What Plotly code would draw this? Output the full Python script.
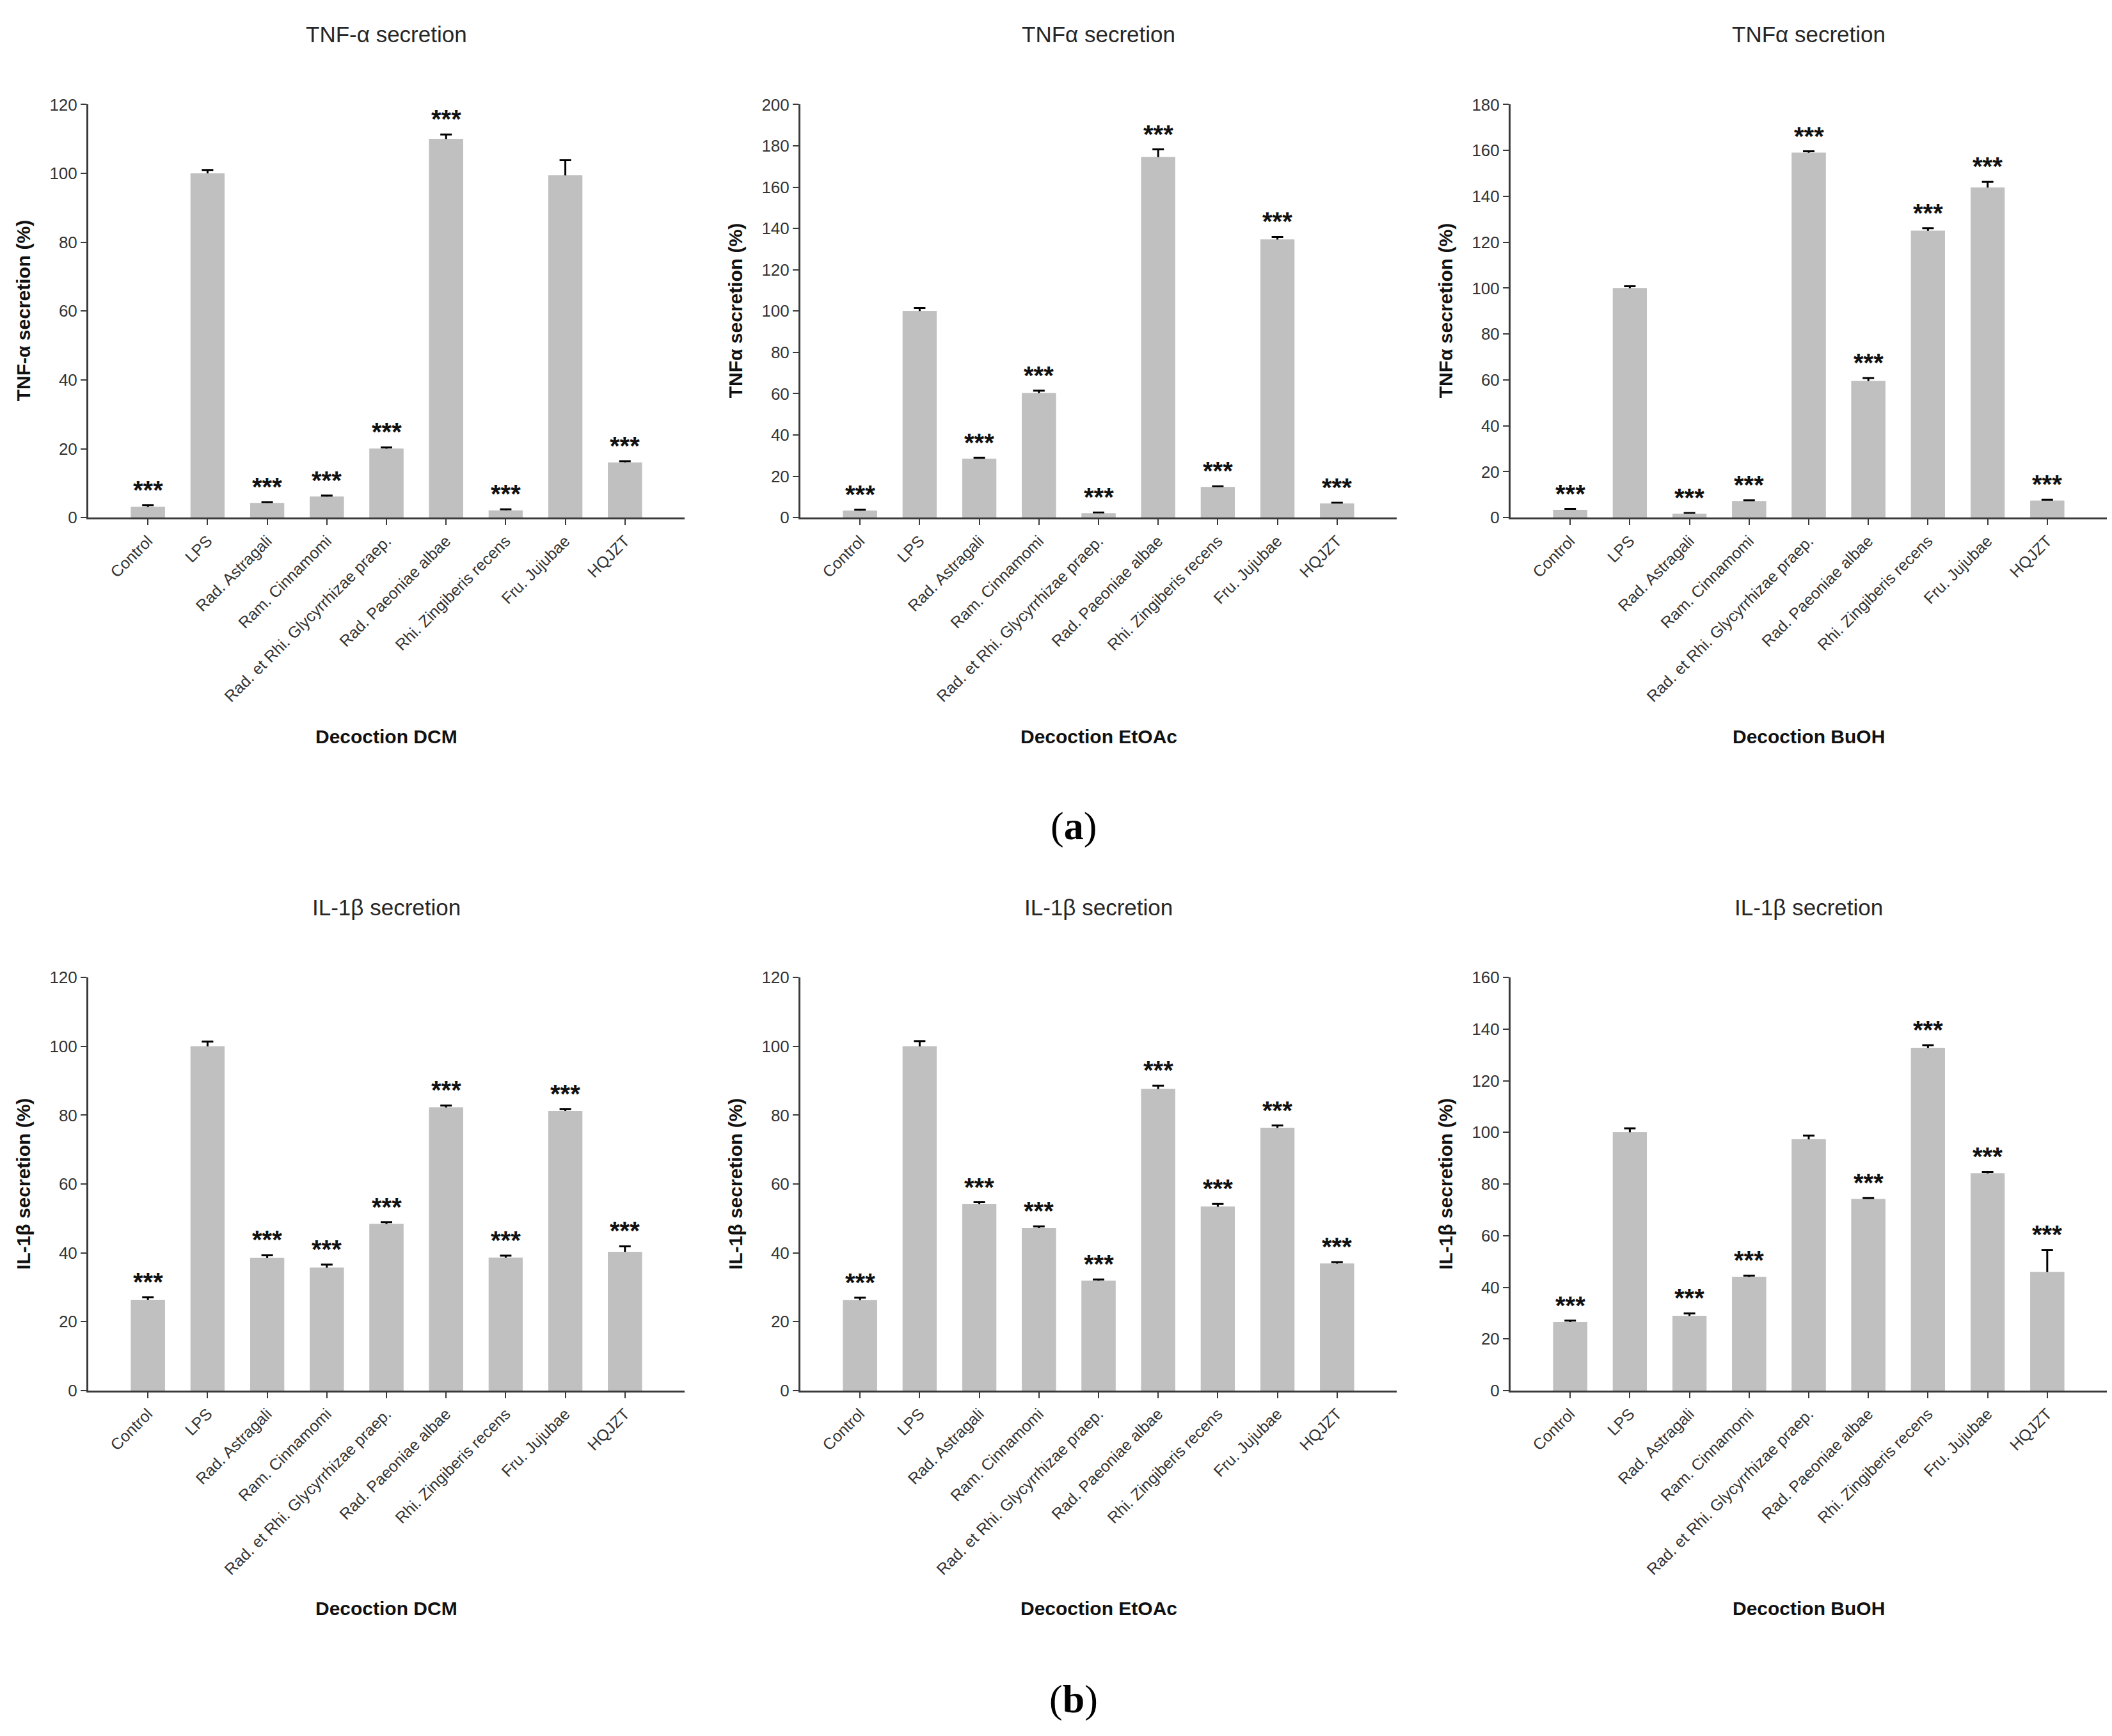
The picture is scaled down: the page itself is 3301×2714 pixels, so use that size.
import plotly.graph_objects as go

# ---------------- data ----------------
categories = ["Control", "LPS", "Rad. Astragali", "Ram. Cinnamomi",
              "Rad. et Rhi. Glycyrrhizae praep.", "Rad. Paeoniae albae",
              "Rhi. Zingiberis recens", "Fru. Jujubae", "HQJZT"]

tnf_dcm = [3.1, 100.0, 4.2, 6.1, 20.0, 110.0, 2.1, 99.4, 16.0]
tnf_dcm_err = [0.5, 1.0, 0.3, 0.3, 0.4, 1.3, 0.3, 4.4, 0.4]
tnf_dcm_sig = ["***", "", "***", "***", "***", "***", "***", "", "***"]

tnf_etoac = [3.3, 100.0, 28.5, 60.3, 2.1, 174.6, 14.8, 134.6, 6.8]
tnf_etoac_err = [0.5, 1.5, 0.5, 1.2, 0.4, 3.7, 0.4, 1.3, 0.4]
tnf_etoac_sig = ["***", "", "***", "***", "***", "***", "***", "***", "***"]

tnf_buoh = [3.4, 100.0, 1.7, 7.2, 159.0, 59.5, 125.0, 143.8, 7.4]
tnf_buoh_err = [0.4, 0.8, 0.3, 0.4, 0.6, 1.3, 1.1, 2.5, 0.4]
tnf_buoh_sig = ["***", "", "***", "***", "***", "***", "***", "***", "***"]

il1b_dcm = [26.4, 100.0, 38.5, 35.7, 48.4, 82.2, 38.6, 81.2, 40.3]
il1b_dcm_err = [0.7, 1.4, 0.8, 0.9, 0.5, 0.6, 0.6, 0.6, 1.6]
il1b_dcm_sig = ["***", "", "***", "***", "***", "***", "***", "***", "***"]

il1b_etoac = [26.3, 100.0, 54.2, 47.2, 31.9, 87.6, 53.4, 76.3, 36.9]
il1b_etoac_err = [0.7, 1.5, 0.5, 0.5, 0.4, 1.0, 0.8, 0.7, 0.4]
il1b_etoac_sig = ["***", "", "***", "***", "***", "***", "***", "***", "***"]

il1b_buoh = [26.5, 100.0, 28.9, 44.0, 97.3, 74.2, 132.7, 84.1, 45.9]
il1b_buoh_err = [0.6, 1.6, 1.0, 0.5, 1.5, 0.4, 1.1, 0.5, 8.5]
il1b_buoh_sig = ["***", "", "***", "***", "", "***", "***", "***", "***"]

panel_titles = ["TNF-\u03b1 secretion", "TNF\u03b1 secretion", "TNF\u03b1 secretion",
                "IL-1\u03b2 secretion", "IL-1\u03b2 secretion", "IL-1\u03b2 secretion"]
y_titles = ["TNF-\u03b1 secretion (%)", "TNF\u03b1 secretion (%)", "TNF\u03b1 secretion (%)",
            "IL-1\u03b2 secretion (%)", "IL-1\u03b2 secretion (%)", "IL-1\u03b2 secretion (%)"]
x_titles = ["Decoction DCM", "Decoction EtOAc", "Decoction BuOH",
            "Decoction DCM", "Decoction EtOAc", "Decoction BuOH"]
y_max = [120, 200, 180, 120, 120, 160]
panel_labels = ["a", "b"]

values = [tnf_dcm, tnf_etoac, tnf_buoh, il1b_dcm, il1b_etoac, il1b_buoh]
errors = [tnf_dcm_err, tnf_etoac_err, tnf_buoh_err, il1b_dcm_err, il1b_etoac_err, il1b_buoh_err]
sigs = [tnf_dcm_sig, tnf_etoac_sig, tnf_buoh_sig, il1b_dcm_sig, il1b_etoac_sig, il1b_buoh_sig]

# ---------------- layout geometry (pixels) ----------------
W, H = 3301, 2714
col_x = [(130, 1062), (1243, 2175), (2353, 3285)]
row_y = [(142, 795), (1522, 2175)]
title_y = [31, 1411]
xtitle_y = [1141, 2519]
label_y = [1283, 2663]
label_x = 1670

FONT = "Liberation Sans, Arial, sans-serif"
BAR = "#c0c0c0"
AX = "#3a3a3a"

fig = go.Figure()
layout = dict(width=W, height=H, margin=dict(l=0, r=0, t=0, b=0),
              paper_bgcolor="white", plot_bgcolor="white",
              showlegend=False, barmode="overlay", bargap=0.43,
              font=dict(family=FONT, color="#222222"))
annotations = []


def px_x(v):
    return v / W


def px_y(v):
    return 1 - v / H


for i in range(6):
    r, c = divmod(i, 3)
    n = i + 1
    xa = "x" if n == 1 else f"x{n}"
    ya = "y" if n == 1 else f"y{n}"
    xk = "xaxis" if n == 1 else f"xaxis{n}"
    yk = "yaxis" if n == 1 else f"yaxis{n}"
    x0, x1 = col_x[c]
    y0, y1 = row_y[r]

    # bar with symmetric error bars (lower half hidden by the overlay bar)
    fig.add_trace(go.Bar(x=categories, y=values[i], xaxis=xa, yaxis=ya,
                         marker=dict(color=BAR, line=dict(width=0)),
                         error_y=dict(type="data", array=errors[i], visible=True,
                                      color="black", thickness=3, width=9),
                         hoverinfo="skip"))
    fig.add_trace(go.Bar(x=categories, y=values[i], xaxis=xa, yaxis=ya,
                         marker=dict(color=BAR, line=dict(width=0)),
                         hoverinfo="skip"))

    layout[xk] = dict(domain=[px_x(x0), px_x(x1)], anchor=ya,
                      type="category", categoryorder="array", categoryarray=categories,
                      range=[-1, 9], showline=True, linecolor=AX, linewidth=3,
                      ticks="outside", ticklen=9, tickwidth=2, tickcolor=AX,
                      tickangle=-45, tickfont=dict(family=FONT, size=25, color="#333333"),
                      showgrid=False, zeroline=False, fixedrange=True)
    layout[yk] = dict(domain=[px_y(y1), px_y(y0)], anchor=xa,
                      range=[0, y_max[i]], dtick=20, showline=True, linecolor=AX,
                      linewidth=3, ticks="outside", ticklen=9, tickwidth=2, tickcolor=AX,
                      tickfont=dict(family=FONT, size=26, color="#333333"),
                      showgrid=False, zeroline=False, fixedrange=True)

    cx = (x0 + x1) / 2
    cy = (y0 + y1) / 2
    annotations.append(dict(text=panel_titles[i], xref="paper", yref="paper",
                            x=px_x(cx), y=px_y(title_y[r]), xanchor="center", yanchor="middle",
                            showarrow=False, font=dict(family=FONT, size=35, color="#262626")))
    annotations.append(dict(text="<b>" + x_titles[i] + "</b>", xref="paper", yref="paper",
                            x=px_x(cx), y=px_y(xtitle_y[r]), xanchor="center", yanchor="middle",
                            showarrow=False, font=dict(family=FONT, size=30, color="#111111")))
    annotations.append(dict(text="<b>" + y_titles[i] + "</b>", xref="paper", yref="paper",
                            x=px_x(x0 - 102), y=px_y(cy), xanchor="center", yanchor="middle",
                            textangle=-90, showarrow=False,
                            font=dict(family=FONT, size=30, color="#111111")))
    for cat, v, e, s in zip(categories, values[i], errors[i], sigs[i]):
        if s:
            annotations.append(dict(text="<b>" + s + "</b>", xref=xa, yref=ya, x=cat, y=v + e,
                                    xanchor="center", yanchor="middle", yshift=24,
                                    showarrow=False,
                                    font=dict(family=FONT, size=40, color="#111111")))

for r in range(2):
    annotations.append(dict(text="(<b>" + panel_labels[r] + "</b>)", xref="paper", yref="paper",
                            x=px_x(label_x), y=px_y(label_y[r]), xanchor="center",
                            yanchor="middle", showarrow=False,
                            font=dict(family="Liberation Serif, Times New Roman, serif",
                                      size=62, color="black")))

layout["annotations"] = annotations
fig.update_layout(**layout)
fig.write_html("out.html")
